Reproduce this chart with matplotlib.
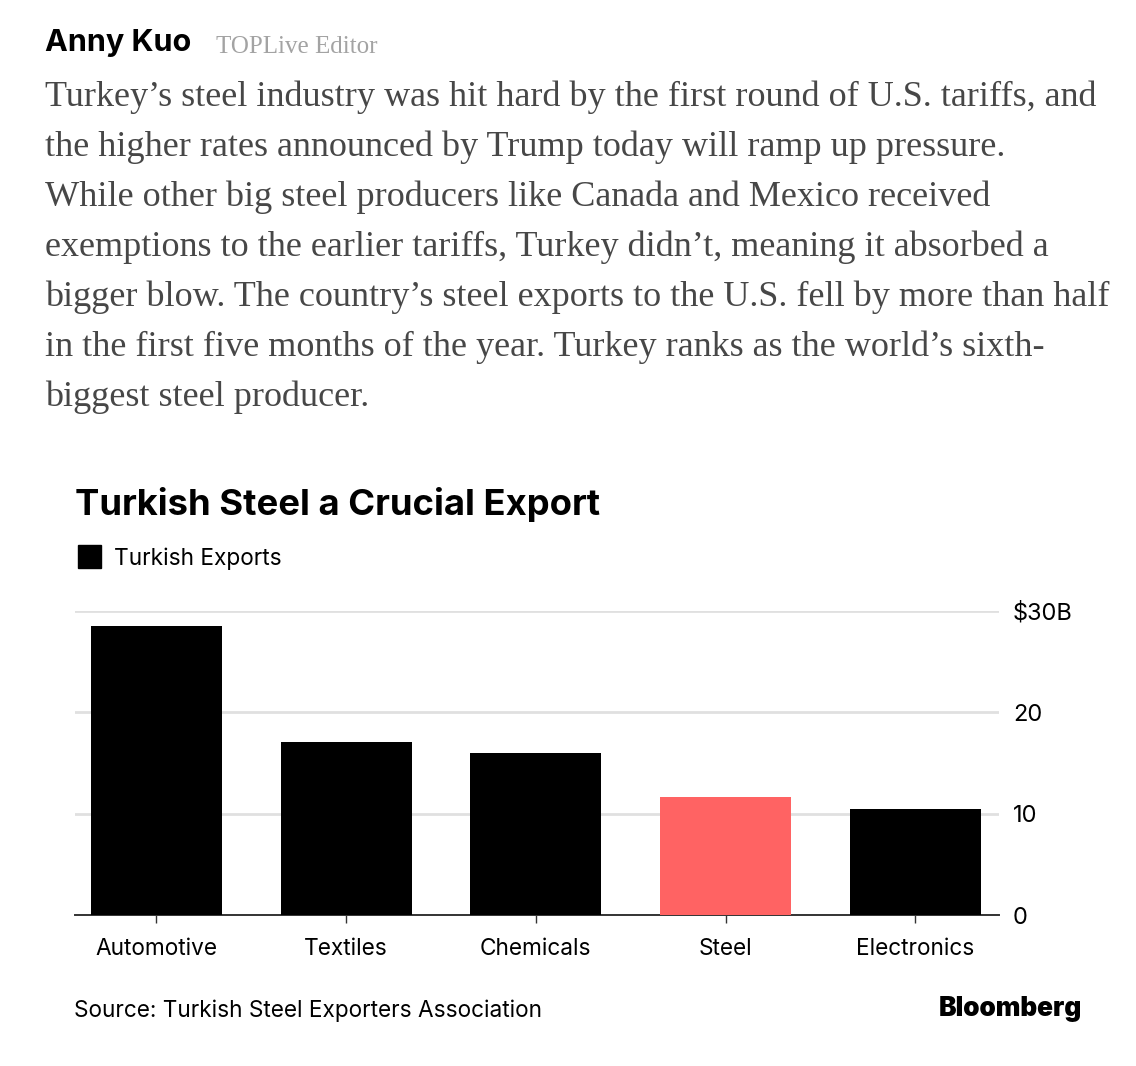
import matplotlib
matplotlib.use("Agg")
import matplotlib.pyplot as plt
from matplotlib.patches import Rectangle

categories = ["Automotive", "Textiles", "Chemicals", "Steel", "Electronics"]
exports = [28.5, 17.1, 16.0, 11.6, 10.5]
colors = ["#000000", "#000000", "#000000", "#ff6363", "#000000"]
y_ticks = [0, 10, 20, 30]
y_labels = ["0", "10", "20", "$30B"]

author = "Anny Kuo"
role = "TOPLive Editor"
body_lines = [
    "Turkey’s steel industry was hit hard by the first round of U.S. tariffs, and",
    "the higher rates announced by Trump today will ramp up pressure.",
    "While other big steel producers like Canada and Mexico received",
    "exemptions to the earlier tariffs, Turkey didn’t, meaning it absorbed a",
    "bigger blow. The country’s steel exports to the U.S. fell by more than half",
    "in the first five months of the year. Turkey ranks as the world’s sixth-",
    "biggest steel producer.",
]
body_y = [97, 147, 197, 247, 297, 347, 397]

W, H = 1136, 1066
fig = plt.figure(figsize=(W / 100, H / 100), dpi=100, facecolor="white")


def px(x, y):
    return x / W, 1 - y / H


SANS = ["Inter", "Liberation Sans", "DejaVu Sans"]
SERIF = ["Liberation Serif", "DejaVu Serif"]

fig.text(*px(45, 43), author, fontsize=22, fontweight="bold", family=SANS, va="center", color="#000000")
fig.text(*px(216, 47), role, fontsize=18, family=SERIF, va="center", color="#a3a3a3")
for line, y in zip(body_lines, body_y):
    fig.text(*px(45, y), line, fontsize=26, family=SERIF, va="center", color="#474747")

fig.text(*px(75, 505), "Turkish Steel a Crucial Export", fontsize=26.2, fontweight="bold",
         family=SANS, va="center", color="#000000")
fig.patches.append(Rectangle(px(78, 568), 23 / W, 23 / H, transform=fig.transFigure, color="#000000"))
fig.text(*px(114, 559), "Turkish Exports", fontsize=16.3, family=SANS, va="center", color="#000000")

# axes box: y=0 at 915 px, y=30 at 611 px
ax = fig.add_axes([75 / W, 1 - 915 / H, (999 - 75) / W, (915 - 611) / H])
ax.set_xlim(-0.429, 4.441)
ax.set_ylim(0, 30)
ax.bar(categories, exports, width=0.69, color=colors, zorder=3)
ax.yaxis.tick_right()
ax.set_yticks(y_ticks, y_labels)
ax.grid(True, axis="y", color="#e0e0e0", linewidth=2, zorder=0)
ax.set_axisbelow(True)
for name in ["top", "left", "right"]:
    ax.spines[name].set_visible(False)
ax.spines["bottom"].set_color("#333333")
ax.spines["bottom"].set_linewidth(1.4)
ax.tick_params(axis="x", length=6, width=1, color="#333333", pad=10.5, labelsize=16.3)
ax.tick_params(axis="y", length=0, pad=10, labelsize=17)
for lab in ax.get_xticklabels() + ax.get_yticklabels():
    lab.set_family(SANS)

fig.text(*px(74, 1011), "Source: Turkish Steel Exporters Association", fontsize=16.25, family=SANS,
         va="center", color="#000000")
fig.text(*px(939, 1009), "Bloomberg", fontsize=18.9, fontweight="black", family=SANS, va="center",
         color="#000000")

fig.savefig("out.png", dpi=100)
